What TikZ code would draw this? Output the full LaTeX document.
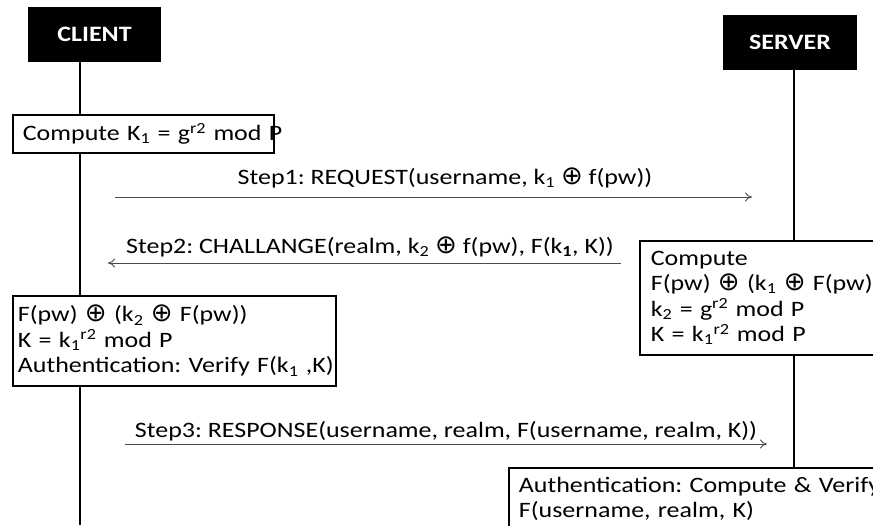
\documentclass[tikz,border=0pt]{standalone}
\usepackage{fontspec}
\setmainfont{Carlito}[FakeStretch=1.18]
\newfontfamily\dsymfont{DejaVu Sans}
\usetikzlibrary{arrows.meta}
\newcommand\dsub[1]{\textsubscript{#1}}
\newcommand\dsup[1]{\textsuperscript{#1}}
\newcommand\dxor{{\dsymfont\fontsize{26}{26}\selectfont ⊕}}
\frenchspacing
\tikzset{
  actor/.style={fill=black, text=white, font=\fontsize{22}{26}\selectfont\bfseries, inner sep=0pt},
  infobox/.style={draw=black, line width=1.8pt, align=left, anchor=north west, inner ysep=0pt},
  life/.style={line width=2.2pt},
  msg/.style={draw=black!70, line width=0.9pt, -{To[length=7pt,width=9pt]}},
  msglabel/.style={anchor=base, inner sep=0pt}
}
\begin{document}
\begin{tikzpicture}[x=1pt,y=-1pt, font=\fontsize{22}{25.5}\selectfont]
\useasboundingbox (0,0) rectangle (873,525);
\clip (0,0) rectangle (873,525);

% actors
\node[actor, minimum width=133pt, minimum height=55pt] (client) at (94.5,34.5) {CLIENT};
\node[actor, minimum width=134pt, minimum height=55pt] (server) at (790,42.5) {SERVER};

% boxes
\node[infobox, minimum height=38pt, text width=241pt, inner xsep=10pt] (k1) at (12,114)
  {\mbox{Compute K\dsub{1} = g\dsup{r2} mod P}};
\node[infobox, minimum height=90pt, text width=313pt, inner xsep=5pt] (cbox) at (12,295)
  {\mbox{F(pw) \dxor{} (k\dsub{2} \dxor{} F(pw))}\\
   \mbox{K = k\dsub{1}\dsup{r2} mod P}\\
   \mbox{Authentication: Verify F(k\dsub{1} ,K)}};
\node[infobox, minimum height=114pt, text width=278pt, inner xsep=11pt] (sbox) at (639,240)
  {\mbox{Compute}\\
   \mbox{F(pw) \dxor{} (k\dsub{1} \dxor{} F(pw))}\\
   \mbox{k\dsub{2} = g\dsup{r2} mod P}\\
   \mbox{K = k\dsub{1}\dsup{r2} mod P}};
\node[infobox, text width=400pt, inner xsep=10pt, inner ysep=9pt] (abox) at (508,467)
  {\mbox{Authentication: Compute \& Verify}\\
   \mbox{F(username, realm, K)}};

% lifelines
\coordinate (cx) at (80,0);
\coordinate (sx) at (794,0);
\coordinate (cend) at (80,525);
\draw[life] (client.south -| cx) -- (k1.north -| cx);
\draw[life] (k1.south -| cx) -- (cbox.north -| cx);
\draw[life] (cbox.south -| cx) -- (cend);
\draw[life] (server.south -| sx) -- (sbox.north -| sx);
\draw[life] (sbox.south -| sx) -- (abox.north -| sx);

% messages
\coordinate (m1s) at (115,197);
\coordinate (m1e) at (752,197);
\coordinate (m2s) at (621,263);
\coordinate (m2e) at (108,263);
\coordinate (m3s) at (125,444);
\coordinate (m3e) at (767,444);
\draw[msg] (m1s) -- (m1e);
\draw[msg] (m2s) -- (m2e);
\draw[msg] (m3s) -- (m3e);

\node[msglabel] (l1) at (445,184) {Step1: REQUEST(username, k\dsub{1} \dxor{} f(pw))};
\node[msglabel] (l2) at (370,253) {Step2: CHALLANGE(realm, k\dsub{2} \dxor{} f(pw), F(k\dsub{\textbf{1}}, K))};
\node[msglabel] (l3) at (446,437) {Step3: RESPONSE(username, realm, F(username, realm, K))};
\end{tikzpicture}
\end{document}
